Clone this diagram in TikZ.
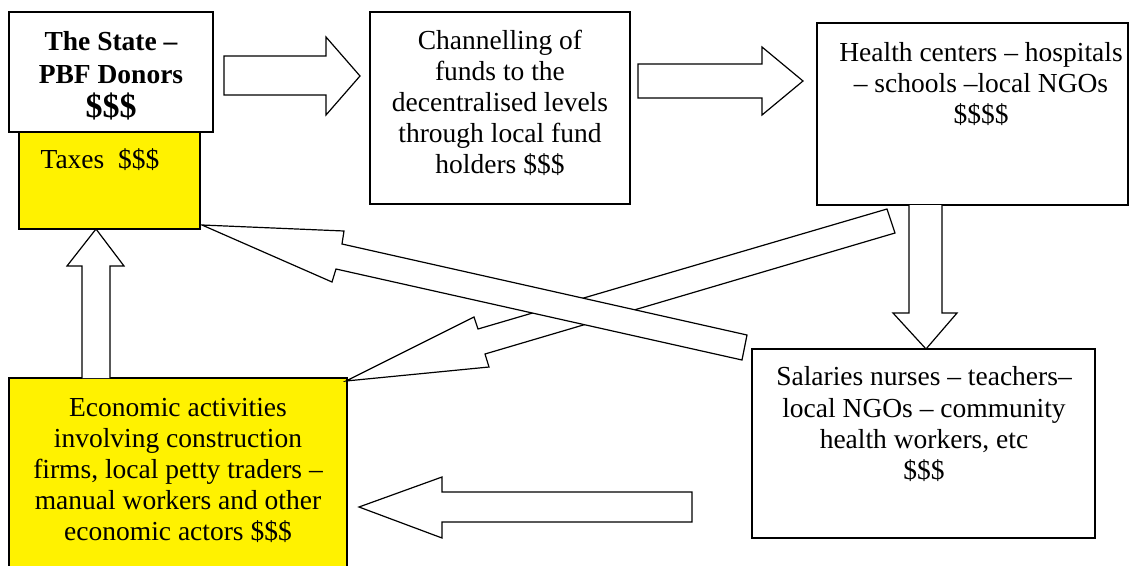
\documentclass[tikz,border=0pt]{standalone}
\usepackage{fontspec}
\setmainfont{Liberation Serif}
\begin{document}
\begin{tikzpicture}[x=1pt,y=-1pt, line width=1.2pt,
  box/.style={draw=black, fill=white, anchor=north west, inner sep=0pt, outer sep=0pt},
  ybox/.style={box, fill=yellow},
  txt/.style={align=center, font=\fontsize{27.5}{31}\selectfont, inner sep=0pt},
  blk/.style={draw=black, fill=white, line join=miter}]
\useasboundingbox (0,0) rectangle (1135,565);
\clip (0,0) rectangle (1135,565);

% boxes
\node[ybox, minimum width=181pt, minimum height=97pt] (taxes) at (19,132) {};
\node[box, minimum width=204pt, minimum height=120pt] (state) at (9,12) {};
\node[box, minimum width=260pt, minimum height=192pt] (chan) at (370,12) {};
\node[box, minimum width=311pt, minimum height=182pt] (health) at (817,23) {};
\node[box, minimum width=343pt, minimum height=189pt] (sal) at (752,349) {};
\node[ybox, minimum width=338pt, minimum height=210pt] (econ) at (9,378) {};

% texts
\node[txt, font=\fontsize{27.5}{33}\bfseries] (statetxt) at (111,76)
  {The State –\\PBF Donors\\[1pt]{\fontsize{34}{36}\selectfont\$\$\$}};
\node[txt, anchor=base west] (taxtxt) at (40,168) {Taxes\ \ \$\$\$};
\node[txt] (chantxt) at (500,103)
  {Channelling of\\funds to the\\decentralised levels\\through local fund\\holders \$\$\$};
\node[txt] (healthtxt) at (981,84)
  {Health centers – hospitals\\– schools –local NGOs\\\$\$\$\$};
\node[txt] (saltxt) at (924,424)
  {Salaries nurses – teachers–\\local NGOs – community\\health workers, etc\\\$\$\$};
\node[txt] (econtxt) at (178,470)
  {Economic activities\\involving construction\\firms, local petty traders –\\manual workers and other\\economic actors \$\$\$};

% block arrow: state -> channelling
\draw[blk] (224,56) -- (326,56) -- (326,37) -- (360,76) -- (326,115) -- (326,95) -- (224,95) -- cycle;
% block arrow: channelling -> health
\draw[blk] (638,64) -- (762,64) -- (762,47) -- (803,81) -- (762,115) -- (762,98) -- (638,98) -- cycle;
% block arrow: health -> salaries (down)
\draw[blk] (909,205) -- (909,313) -- (893,313) -- (926,349) -- (957,313) -- (942,313) -- (942,205);
% block arrow: salaries -> economic (left)
\draw[blk] (692,492) -- (442,492) -- (442,477) -- (359,507) -- (442,538) -- (442,522) -- (692,522) -- cycle;
% block arrow: economic -> taxes (up)
\draw[blk] (82,378) -- (82,266) -- (67,266) -- (96,229) -- (124,266) -- (110,266) -- (110,378);
% diagonal: health -> economic
\draw[blk] (346,381) -- (474,317) -- (478,329) -- (887,209) -- (895,233) -- (485,354) -- (489,367) -- cycle;
% diagonal: salaries -> taxes
\draw[blk] (202,225) -- (344,231) -- (342,244) -- (747,335) -- (742,360) -- (336,269) -- (332,282) -- cycle;
\end{tikzpicture}
\end{document}
